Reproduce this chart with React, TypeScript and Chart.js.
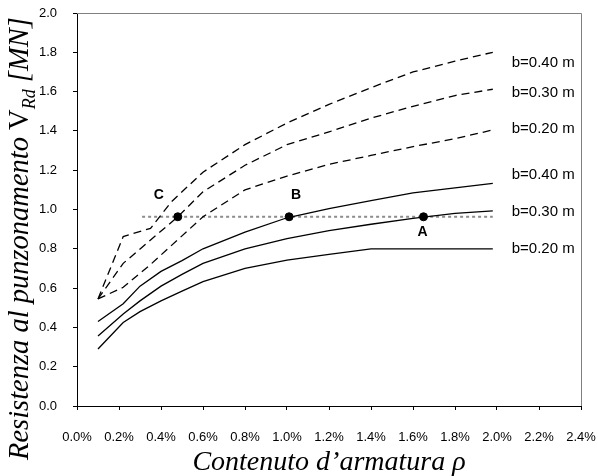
import { useEffect, useRef } from "react";
import { Chart, registerables } from "chart.js";

Chart.register(...registerables);

const SANS = 'Arial, "Liberation Sans", sans-serif';
const SERIF = '"Times New Roman", "Liberation Serif", serif';

// Reinforcement ratio (%) and punching resistance V_Rd (MN)
const solidX = [0.1, 0.22, 0.3, 0.4, 0.5, 0.6, 0.8, 1.0, 1.2, 1.4, 1.6, 1.8, 1.98];
const solidB040 = [0.43, 0.52, 0.61, 0.685, 0.74, 0.8, 0.885, 0.958, 1.005, 1.045, 1.085, 1.11, 1.133];
const solidB030 = [0.356, 0.468, 0.535, 0.61, 0.67, 0.726, 0.8, 0.852, 0.892, 0.925, 0.955, 0.98, 0.993];
const solidB020 = [0.29, 0.425, 0.48, 0.535, 0.585, 0.633, 0.7, 0.742, 0.772, 0.8, 0.8, 0.8, 0.8];

const dashB040X = [0.1, 0.22, 0.35, 0.45, 0.6, 0.8, 1.0, 1.2, 1.4, 1.6, 1.8, 1.98];
const dashB040 = [0.545, 0.862, 0.904, 1.04, 1.19, 1.33, 1.44, 1.535, 1.62, 1.7, 1.755, 1.8];
const dashB030X = [0.1, 0.22, 0.48, 0.6, 0.8, 1.0, 1.2, 1.4, 1.6, 1.8, 1.98];
const dashB030 = [0.545, 0.726, 0.963, 1.09, 1.225, 1.33, 1.395, 1.465, 1.525, 1.58, 1.612];
const dashB020X = [0.1, 0.22, 0.35, 0.6, 0.8, 1.0, 1.2, 1.4, 1.6, 1.8, 1.98];
const dashB020 = [0.545, 0.604, 0.72, 0.963, 1.1, 1.17, 1.23, 1.275, 1.32, 1.36, 1.405];

// Design demand line and the three reference points on it
const demandX = [0.31, 1.98];
const demandV = 0.963;
const pointNames = ["C", "B", "A"];
const pointX = [0.48, 1.01, 1.65];

// Curve labels: text and the V_Rd level they sit at
const curveLabels = ["b=0.40 m", "b=0.30 m", "b=0.20 m", "b=0.40 m", "b=0.30 m", "b=0.20 m"];
const curveLabelV = [1.748, 1.595, 1.412, 1.178, 0.989, 0.801];
const curveLabelX = 2.07;

const xTickStep = 0.2;
const xMax = 2.4;
const yTickStep = 0.2;
const yMax = 2.0;

const pts = (xs: number[], ys: number[]) => xs.map((x, i) => ({ x, y: ys[i] }));

const solid = (data: { x: number; y: number }[]) => ({
  data,
  showLine: true,
  borderColor: "#000",
  borderWidth: 1.3,
  pointRadius: 0,
  tension: 0,
  fill: false,
});

const dashed = (data: { x: number; y: number }[]) => ({
  ...solid(data),
  borderDash: [8, 5],
});

const labelOffsets: Record<string, [number, number]> = {
  C: [-19, -22],
  B: [7, -22],
  A: [-1, 15],
};

const overlay = {
  id: "overlay",
  afterDraw(chart: any) {
    const { ctx, chartArea, scales } = chart;
    const xs = scales.x;
    const ys = scales.y;
    ctx.save();

    // top and right frame
    ctx.strokeStyle = "#808080";
    ctx.lineWidth = 1;
    ctx.beginPath();
    ctx.moveTo(chartArea.left, Math.round(chartArea.top) + 0.5);
    ctx.lineTo(Math.round(chartArea.right) + 0.5, Math.round(chartArea.top) + 0.5);
    ctx.lineTo(Math.round(chartArea.right) + 0.5, chartArea.bottom);
    ctx.stroke();

    // point letters
    ctx.fillStyle = "#000";
    ctx.font = `bold 14px ${SANS}`;
    ctx.textAlign = "center";
    ctx.textBaseline = "middle";
    pointNames.forEach((n, i) => {
      const [dx, dy] = labelOffsets[n];
      ctx.fillText(n, xs.getPixelForValue(pointX[i]) + dx, ys.getPixelForValue(demandV) + dy);
    });

    // curve labels
    ctx.font = `15px ${SANS}`;
    ctx.textAlign = "left";
    curveLabels.forEach((t, i) => {
      ctx.fillText(t, xs.getPixelForValue(curveLabelX), ys.getPixelForValue(curveLabelV[i]));
    });

    // x axis title
    ctx.font = `italic 28px ${SERIF}`;
    ctx.textAlign = "center";
    ctx.textBaseline = "alphabetic";
    ctx.fillText("Contenuto d\u2019armatura \u03C1", (chartArea.left + chartArea.right) / 2, 470);

    // y axis title (rotated, with subscript)
    ctx.translate(28, 460);
    ctx.rotate(-Math.PI / 2);
    ctx.textAlign = "left";
    let x = 0;
    const part = (text: string, font: string, dy: number) => {
      ctx.font = font;
      ctx.fillText(text, x, dy);
      x += ctx.measureText(text).width;
    };
    part("Resistenza al punzonamento ", `italic 28.5px ${SERIF}`, 0);
    part("V", `28.5px ${SERIF}`, 0);
    part("Rd", `italic 18px ${SERIF}`, 7);
    part(" [MN]", `italic 28.5px ${SERIF}`, 0);

    ctx.restore();
  },
};

export default function App() {
  const ref = useRef<HTMLCanvasElement>(null);

  useEffect(() => {
    const canvas = ref.current;
    if (!canvas) return;
    const chart = new Chart(canvas, {
      type: "scatter",
      data: {
        datasets: [
          {
            data: pointX.map((x) => ({ x, y: demandV })),
            pointRadius: 4,
            pointBackgroundColor: "#000",
            pointBorderColor: "#000",
            showLine: false,
          } as any,
          solid(pts(solidX, solidB040)),
          solid(pts(solidX, solidB030)),
          solid(pts(solidX, solidB020)),
          dashed(pts(dashB040X, dashB040)),
          dashed(pts(dashB030X, dashB030)),
          dashed(pts(dashB020X, dashB020)),
          {
            data: demandX.map((x) => ({ x, y: demandV })),
            showLine: true,
            borderColor: "#8c8c8c",
            borderWidth: 2,
            borderDash: [3, 3],
            pointRadius: 0,
          } as any,
        ],
      },
      options: {
        responsive: false,
        animation: false,
        devicePixelRatio: 1,
        layout: { padding: { left: 0, top: 13, right: 17, bottom: 0 } },
        plugins: {
          legend: { display: false },
          tooltip: { enabled: false },
        },
        scales: {
          x: {
            type: "linear",
            min: 0,
            max: xMax,
            afterFit: (s: any) => {
              s.height = 70;
              s.paddingLeft = 0;
              s.paddingRight = 0;
            },
            ticks: {
              stepSize: xTickStep,
              callback: (v: any) => Number(v).toFixed(1) + "%",
              font: { family: SANS, size: 13 },
              color: "#000",
              padding: 20,
              maxRotation: 0,
              autoSkip: false,
            },
            grid: { drawOnChartArea: false, drawTicks: true, tickLength: 4, color: "#000" },
            border: { display: true, color: "#000", width: 1 },
          },
          y: {
            type: "linear",
            min: 0,
            max: yMax,
            afterFit: (s: any) => {
              s.width = 77;
              s.paddingTop = 0;
              s.paddingBottom = 0;
            },
            ticks: {
              stepSize: yTickStep,
              callback: (v: any) => Number(v).toFixed(1),
              font: { family: SANS, size: 13 },
              color: "#000",
              padding: 16,
              autoSkip: false,
            },
            grid: { drawOnChartArea: false, drawTicks: true, tickLength: 4, color: "#000" },
            border: { display: true, color: "#000", width: 1 },
          },
        },
      } as any,
      plugins: [overlay],
    });
    return () => chart.destroy();
  }, []);

  return (
    <div style={{ position: "absolute", left: 0, top: 0, width: 598, height: 476, background: "#fff" }}>
      <canvas ref={ref} width={598} height={476} style={{ display: "block" }} />
    </div>
  );
}
